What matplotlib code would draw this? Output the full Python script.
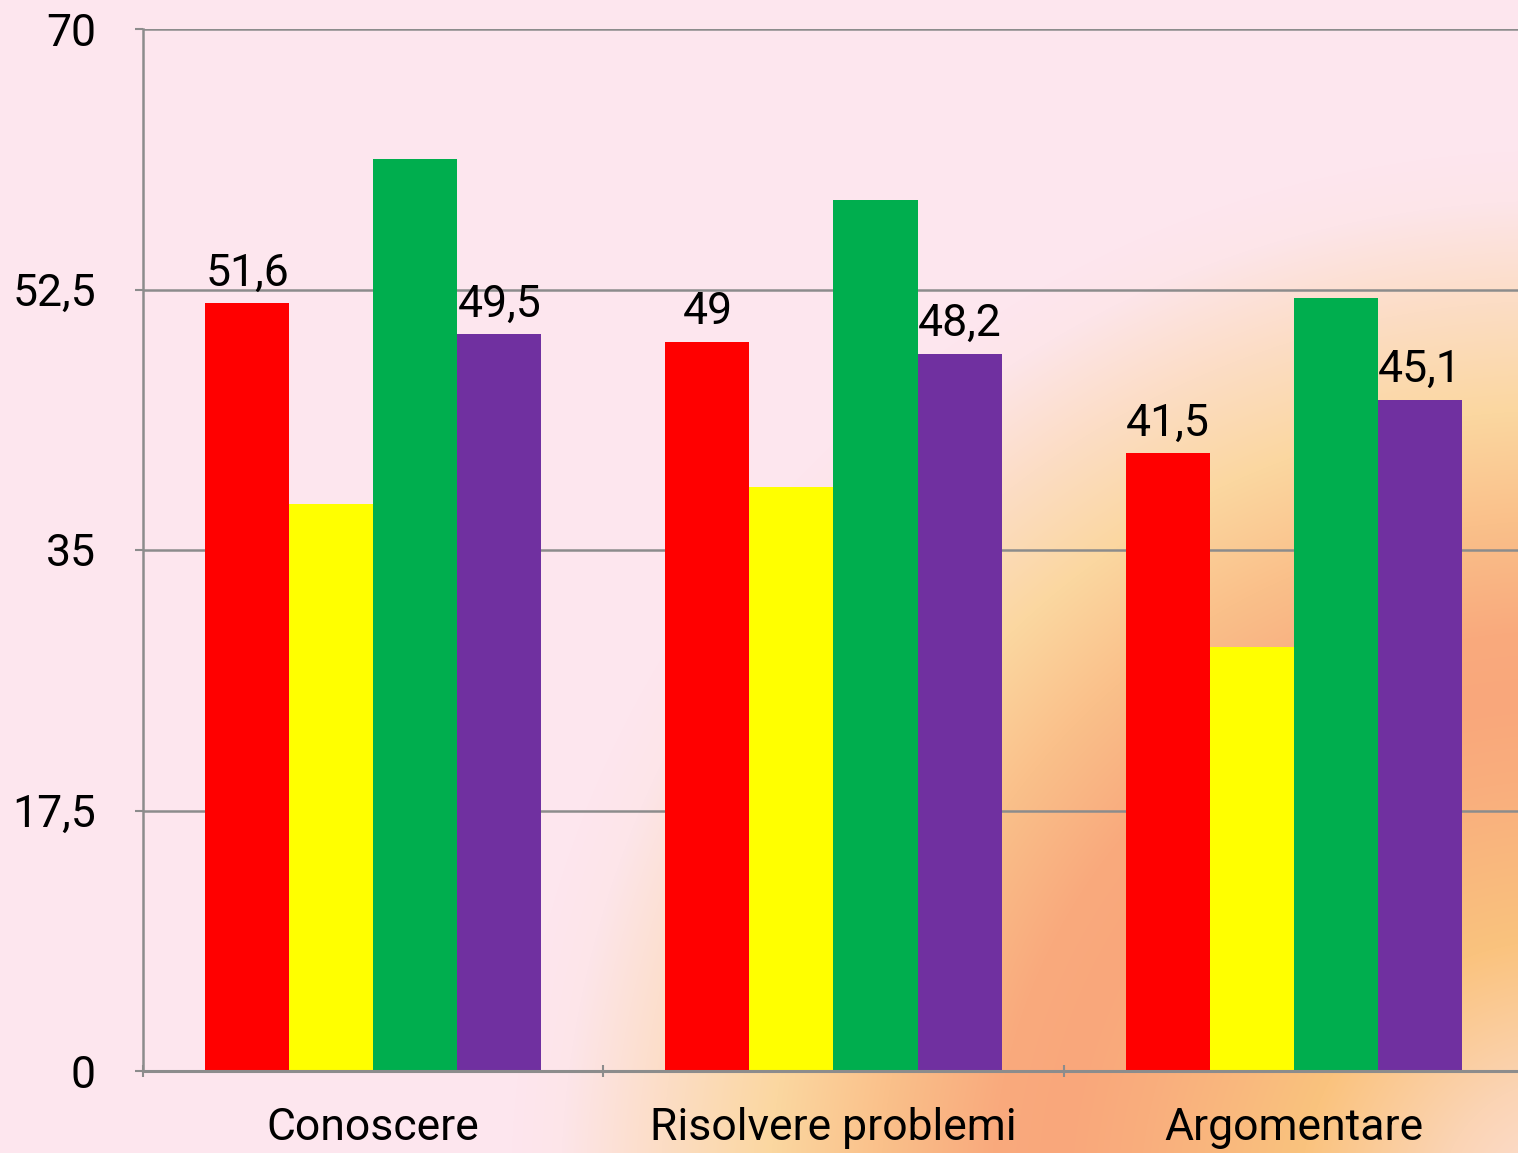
import numpy as np
import matplotlib
matplotlib.use('Agg')
from matplotlib import pyplot as plt
from matplotlib.colors import to_rgb

plt.rcParams['font.family'] = ['Roboto', 'DejaVu Sans']

# data
categories = ['Conoscere', 'Risolvere problemi', 'Argomentare']
red_vals = [51.6, 49.0, 41.5]
yellow_vals = [38.1, 39.2, 28.5]
green_vals = [61.3, 58.5, 51.9]
purple_vals = [49.5, 48.2, 45.1]
red_labels = ['51,6', '49', '41,5']
purple_labels = ['49,5', '48,2', '45,1']
y_ticks = [0, 17.5, 35, 52.5, 70]
y_tick_labels = ['0', '17,5', '35', '52,5', '70']

W, H = 1518, 1153
fig = plt.figure(figsize=(W/100, H/100), dpi=100)

# background: radial gradient from lower right corner
bg = fig.add_axes([0, 0, 1, 1])
yy, xx = np.mgrid[0:H, 0:W]
r = np.hypot(xx - 1560, yy - 1200)
stops = [0, 120, 260, 420, 500, 570, 680, 790, 900, 1000, 1050]
cols = ['#FCE0D6', '#FBD4B4', '#FAC37E', '#F9AE7D', '#F9A77B', '#F9AA7D',
        '#FAC08A', '#FBD7A0', '#FCDDC5', '#FDE5E9', '#FDE6EE']
cols = np.array([to_rgb(c) for c in cols])
img = np.dstack([np.interp(r, stops, cols[:, i]) for i in range(3)])
bg.imshow(img, aspect='auto', extent=[0, W, H, 0])
bg.axis('off')

ax = fig.add_axes([143/W, 1-1071/H, 1381/W, 1042/H])
ax.patch.set_visible(False)

x = np.arange(len(categories))
w = 0.1826
series = [red_vals, yellow_vals, green_vals, purple_vals]
colors = ['#FF0000', '#FFFF00', '#00AE4E', '#7030A0']
bars = []
for i, (vals, c) in enumerate(zip(series, colors)):
    b = ax.bar(x + (i - 1.5)*w, vals, w, color=c, zorder=3)
    bars.append(b)

for rect, lab in zip(bars[0], red_labels):
    ax.annotate(lab, (rect.get_x() + rect.get_width()/2, rect.get_height()),
                xytext=(0, 6), textcoords='offset points', ha='center', va='bottom', fontsize=32)
for rect, lab in zip(bars[3], purple_labels):
    ax.annotate(lab, (rect.get_x() + rect.get_width()/2, rect.get_height()),
                xytext=(0, 6), textcoords='offset points', ha='center', va='bottom', fontsize=32)

ax.set_xlim(-0.5, 2.5)
ax.set_ylim(0, 70)
ax.set_yticks(y_ticks)
ax.set_yticklabels(y_tick_labels, fontsize=32)
ax.yaxis.grid(True, color='#8C8C8C', linewidth=1.8, zorder=1)
ax.set_axisbelow(True)

ax.set_xticks(x)
ax.set_xticklabels(categories, fontsize=32)
ax.set_xticks([-0.5, 0.5, 1.5], minor=True)
ax.tick_params(axis='x', which='major', length=0, pad=26)
ax.tick_params(axis='x', which='minor', direction='inout', length=8, width=1.5, color='#8C8C8C')
ax.tick_params(axis='y', length=6, width=1.5, color='#8C8C8C', pad=28)

for s in ['right', 'top']:
    ax.spines[s].set_visible(False)
ax.spines['left'].set_color('#8C8C8C')
ax.spines['left'].set_linewidth(1.8)
ax.spines['bottom'].set_color('#8C8C8C')
ax.spines['bottom'].set_linewidth(2.2)
ax.spines['bottom'].set_zorder(4)

fig.savefig('out.png', dpi=100)
